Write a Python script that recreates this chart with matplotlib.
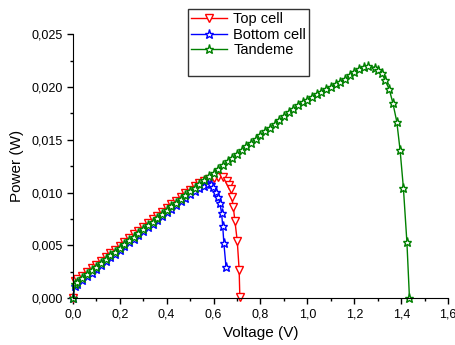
import matplotlib
matplotlib.use("Agg")
import matplotlib.pyplot as plt
from matplotlib.ticker import MultipleLocator, FuncFormatter
from matplotlib.lines import Line2D

plt.rcParams['font.family'] = ['Liberation Sans', 'DejaVu Sans']

# Top cell (red)
top_v = [0.0, 0.01, 0.02, 0.04, 0.06, 0.08, 0.10, 0.12, 0.14, 0.16, 0.18, 0.20,
         0.22, 0.24, 0.26, 0.28, 0.30, 0.32, 0.34, 0.36, 0.38, 0.40, 0.42, 0.44,
         0.46, 0.48, 0.50, 0.52, 0.54, 0.56, 0.58, 0.60, 0.62, 0.64, 0.656, 0.667,
         0.673, 0.677, 0.684, 0.691, 0.701, 0.709, 0.712]
top_p = [0.0, 0.00158, 0.00176, 0.00211, 0.00247, 0.00282, 0.00318, 0.00354,
         0.00389, 0.00425, 0.00460, 0.00496, 0.00532, 0.00567, 0.00603, 0.00638,
         0.00674, 0.00710, 0.00745, 0.00781, 0.00816, 0.00852, 0.00888, 0.00923,
         0.00959, 0.00994, 0.01025, 0.01058, 0.01087, 0.01110, 0.01128, 0.01140,
         0.01146, 0.01148, 0.01111, 0.01070, 0.01030, 0.00960, 0.00865, 0.00730,
         0.00540, 0.00270, 0.00010]

# Bottom cell (blue)
bot_v = [0.0, 0.01, 0.02, 0.04, 0.06, 0.08, 0.10, 0.12, 0.14, 0.16, 0.18, 0.20,
         0.22, 0.24, 0.26, 0.28, 0.30, 0.32, 0.34, 0.36, 0.38, 0.40, 0.42, 0.44,
         0.46, 0.48, 0.50, 0.52, 0.54, 0.56, 0.575, 0.588, 0.599, 0.610, 0.620,
         0.627, 0.634, 0.639, 0.644, 0.653]
bot_p = [0.0, 0.00118, 0.00136, 0.00171, 0.00207, 0.00242, 0.00278, 0.00314,
         0.00349, 0.00385, 0.00420, 0.00456, 0.00492, 0.00527, 0.00563, 0.00598,
         0.00634, 0.00670, 0.00705, 0.00741, 0.00776, 0.00812, 0.00848, 0.00883,
         0.00917, 0.00950, 0.00985, 0.01015, 0.01042, 0.01065, 0.01080, 0.01084,
         0.01048, 0.01007, 0.00960, 0.00897, 0.00808, 0.00682, 0.00518, 0.00296]

# Tandeme (green)
tan_v = [0.0, 0.01, 0.02, 0.04, 0.06, 0.08, 0.10, 0.12, 0.14, 0.16, 0.18, 0.20,
         0.22, 0.24, 0.26, 0.28, 0.30, 0.32, 0.34, 0.36, 0.38, 0.40, 0.42, 0.44,
         0.46, 0.48, 0.50, 0.52, 0.54, 0.56, 0.58, 0.60, 0.62, 0.64, 0.66, 0.68,
         0.70, 0.72, 0.74, 0.76, 0.78, 0.80, 0.82, 0.84, 0.86, 0.88, 0.90, 0.92,
         0.94, 0.96, 0.98, 1.00, 1.02, 1.04, 1.06, 1.08, 1.10, 1.12, 1.14, 1.16,
         1.18, 1.20, 1.22, 1.24, 1.26, 1.288, 1.302, 1.317, 1.331, 1.349, 1.364,
         1.381, 1.395, 1.409, 1.424, 1.435]
tan_p = [0.0, 0.00138, 0.00156, 0.00191, 0.00227, 0.00262, 0.00298, 0.00334,
         0.00369, 0.00405, 0.00440, 0.00476, 0.00512, 0.00547, 0.00583, 0.00618,
         0.00654, 0.00690, 0.00725, 0.00761, 0.00796, 0.00832, 0.00868, 0.00903,
         0.00939, 0.00974, 0.01010, 0.01046, 0.01081, 0.01117, 0.01152, 0.01188,
         0.01224, 0.01259, 0.01295, 0.01330, 0.01366, 0.01402, 0.01437, 0.01473,
         0.01508, 0.01544, 0.01580, 0.01615, 0.01651, 0.01686, 0.01722, 0.01758,
         0.01793, 0.01825, 0.01853, 0.01880, 0.01906, 0.01930, 0.01954, 0.01977,
         0.02000, 0.02025, 0.02050, 0.02078, 0.02110, 0.02145, 0.02172, 0.02190,
         0.02198, 0.02184, 0.02159, 0.02130, 0.02064, 0.01976, 0.01850, 0.01670,
         0.01402, 0.01047, 0.00533, 0.0]

fig = plt.figure(figsize=(4.55, 3.45), dpi=100)
ax = fig.add_axes([0.160, 0.136, 0.825, 0.765])

ax.plot(top_v, top_p, color='#FF0000', lw=1, marker='v', ms=6,
        mfc='white', mec='#FF0000', mew=1, label='Top cell', clip_on=False)
ax.plot(bot_v, bot_p, color='#0000FF', lw=1, marker='*', ms=6.5,
        mfc='white', mec='#0000FF', mew=1, label='Bottom cell', clip_on=False)
ax.plot(tan_v, tan_p, color='#008000', lw=1, marker='*', ms=6.5,
        mfc='white', mec='#008000', mew=1, label='Tandeme', clip_on=False)

ax.set_xlim(0, 1.6)
ax.set_ylim(0, 0.025)
ax.spines['top'].set_visible(False)
ax.spines['right'].set_visible(False)

ax.xaxis.set_major_locator(MultipleLocator(0.2))
ax.xaxis.set_minor_locator(MultipleLocator(0.1))
ax.yaxis.set_major_locator(MultipleLocator(0.005))
ax.yaxis.set_minor_locator(MultipleLocator(0.0025))
ax.xaxis.set_major_formatter(FuncFormatter(lambda v, p: f"{v:.1f}".replace('.', ',')))
ax.yaxis.set_major_formatter(FuncFormatter(lambda v, p: f"{v:.3f}".replace('.', ',')))
ax.tick_params(which='major', direction='out', length=4.5, width=1, labelsize=9, pad=3)
ax.tick_params(which='minor', direction='out', length=2.5, width=1)

ax.set_xlabel('Voltage (V)', fontsize=11, labelpad=4)
ax.set_ylabel('Power (W)', fontsize=11, labelpad=5)

handles, labels = ax.get_legend_handles_labels()
handles.append(Line2D([], [], color='none'))
labels.append(' ')
leg = fig.legend(handles, labels, loc='upper left', bbox_to_anchor=(188 / 455, 1 - 9 / 345),
                 fontsize=10.5, frameon=True, fancybox=False, edgecolor='black',
                 handlelength=2.5, handletextpad=0.4, borderpad=0.2, labelspacing=0.12,
                 borderaxespad=0)
leg.get_frame().set_linewidth(1)

fig.savefig('out.png', dpi=100)
